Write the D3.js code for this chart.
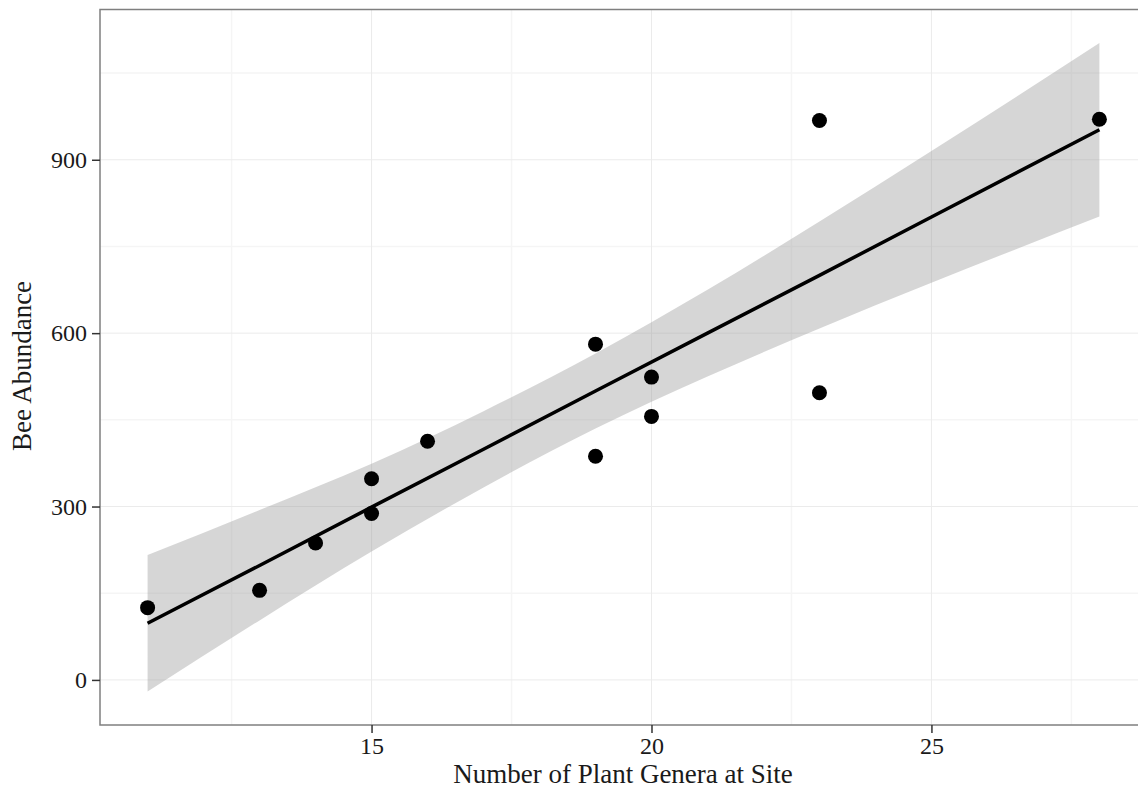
<!DOCTYPE html>
<html>
<head>
<meta charset="utf-8">
<script src="https://cdn.jsdelivr.net/npm/d3@7"></script>
<style>
	body { margin: 0; background: #fff; }
	svg text { font-family: "Liberation Serif", "Times New Roman", serif; }
</style>
</head>
<body>
<div id="chart"></div>
<script>
'use strict'
// site data
var plantGenera = [11, 13, 14, 15, 15, 16, 19, 19, 20, 20, 23, 23, 28];
var beeAbundance = [125, 155, 237, 348, 288, 413, 581, 387, 524, 456, 968, 497, 970];

// fitted line and its confidence band
var fitX = [11, 13, 15, 17, 19, 21, 23, 25, 28];
var fitY = [98, 198, 299, 399, 500, 600, 700, 801, 952];
var bandLow = [-20, 103, 222, 333, 435, 525, 608, 687, 802];
var bandHigh = [216, 294, 374, 465, 565, 675, 793, 915, 1102];

var xTicks = [15, 20, 25];
var xMinor = [12.5, 17.5, 22.5, 27.5];
var yTicks = [0, 300, 600, 900];
var yMinor = [150, 450, 750, 1050];

var W = 1138, H = 799;
var margin = {left: 100, top: 9.5, right: -9, bottom: 74};
var pw = W - margin.left - margin.right;
var ph = H - margin.top - margin.bottom;

var x = d3.scaleLinear().domain([10.15, 28.85]).range([0, pw]);
var y = d3.scaleLinear().domain([-78, 1160]).range([ph, 0]);

var svg = d3.select("#chart").append("svg")
	.attr("width", W).attr("height", H);
var g = svg.append("g")
	.attr("transform", "translate(" + margin.left + "," + margin.top + ")");

// minor grid
g.append("g").selectAll("line.vminor").data(xMinor).enter().append("line")
	.attr("x1", function(d){ return x(d); }).attr("x2", function(d){ return x(d); })
	.attr("y1", 0).attr("y2", ph)
	.style("stroke", "#f5f5f5").style("stroke-width", 1.5);
g.append("g").selectAll("line.hminor").data(yMinor).enter().append("line")
	.attr("y1", function(d){ return y(d); }).attr("y2", function(d){ return y(d); })
	.attr("x1", 0).attr("x2", pw)
	.style("stroke", "#f5f5f5").style("stroke-width", 1.5);
// major grid
g.append("g").selectAll("line.vmajor").data(xTicks).enter().append("line")
	.attr("x1", function(d){ return x(d); }).attr("x2", function(d){ return x(d); })
	.attr("y1", 0).attr("y2", ph)
	.style("stroke", "#ebebeb").style("stroke-width", 1);
g.append("g").selectAll("line.hmajor").data(yTicks).enter().append("line")
	.attr("y1", function(d){ return y(d); }).attr("y2", function(d){ return y(d); })
	.attr("x1", 0).attr("x2", pw)
	.style("stroke", "#ebebeb").style("stroke-width", 1);

// confidence band
var band = fitX.map(function(v, i){ return {x: v, lo: bandLow[i], hi: bandHigh[i]}; });
g.append("path")
	.datum(band)
	.attr("d", d3.area().curve(d3.curveMonotoneX)
		.x(function(d){ return x(d.x); })
		.y0(function(d){ return y(d.lo); })
		.y1(function(d){ return y(d.hi); }))
	.style("fill", "#999999").style("fill-opacity", 0.4);

// fitted line
var fit = fitX.map(function(v, i){ return {x: v, y: fitY[i]}; });
g.append("path")
	.datum(fit)
	.attr("d", d3.line()
		.x(function(d){ return x(d.x); })
		.y(function(d){ return y(d.y); }))
	.style("fill", "none").style("stroke", "#000").style("stroke-width", 3.5);

// points
g.append("g").selectAll("circle").data(plantGenera).enter().append("circle")
	.attr("cx", function(d){ return x(d); })
	.attr("cy", function(d, i){ return y(beeAbundance[i]); })
	.attr("r", 7.5)
	.style("fill", "#000");

// panel border
g.append("rect")
	.attr("x", 0).attr("y", 0).attr("width", pw).attr("height", ph)
	.style("fill", "none").style("stroke", "#7f7f7f").style("stroke-width", 1.5);

// axes
var xAxis = g.append("g")
	.attr("transform", "translate(0," + ph + ")")
	.call(d3.axisBottom(x).tickValues(xTicks).tickSize(8).tickPadding(4));
var yAxis = g.append("g")
	.call(d3.axisLeft(y).tickValues(yTicks).tickSize(8).tickPadding(5));
[xAxis, yAxis].forEach(function(a){
	a.select(".domain").remove();
	a.selectAll(".tick line").style("stroke", "#333").style("stroke-width", 1.5);
	a.selectAll(".tick text").style("font-size", "24px").style("fill", "#1a1a1a");
});

// axis titles
svg.append("text")
	.attr("x", 623).attr("y", 783)
	.attr("text-anchor", "middle")
	.style("font-size", "27px").style("fill", "#1a1a1a")
	.text("Number of Plant Genera at Site");
svg.append("text")
	.attr("transform", "translate(31,366) rotate(-90)")
	.attr("text-anchor", "middle")
	.style("font-size", "27px").style("fill", "#1a1a1a")
	.text("Bee Abundance");
</script>
</body>
</html>
